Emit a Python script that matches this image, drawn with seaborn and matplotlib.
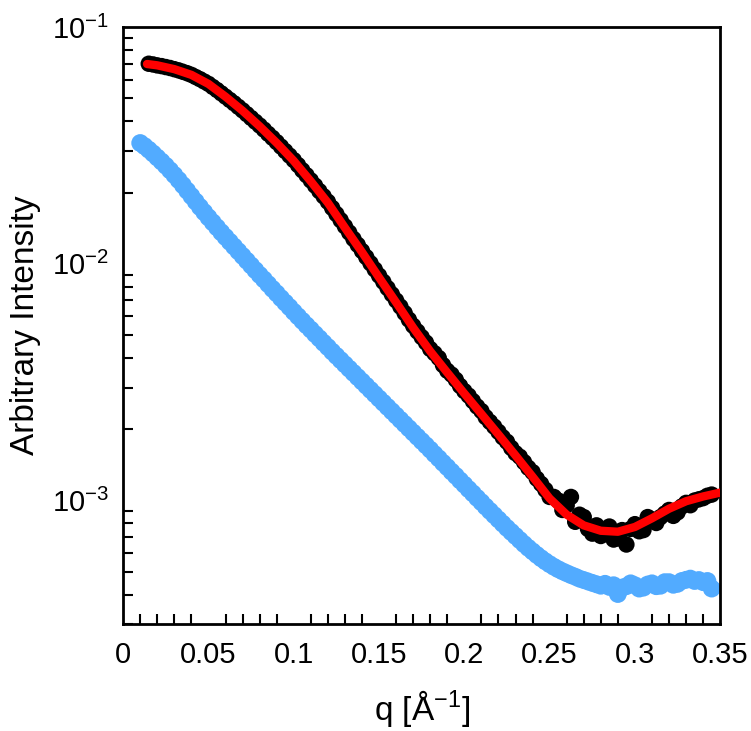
import numpy as np
import pandas as pd
import matplotlib
matplotlib.use("Agg")
import matplotlib.pyplot as plt
import seaborn as sns
from matplotlib.ticker import LogLocator, MultipleLocator, FuncFormatter

# --- data (intensities as log10 values read on the log axis) ---
q_blue = [0.0100, 0.0125, 0.0150, 0.0175, 0.0200, 0.0225, 0.0250, 0.0275, 0.0300, 0.0325,
          0.0350, 0.0375, 0.0400, 0.0425, 0.0450, 0.0475, 0.0500, 0.0525, 0.0550, 0.0575,
          0.0600, 0.0625, 0.0650, 0.0675, 0.0700, 0.0725, 0.0750, 0.0775, 0.0800, 0.0825,
          0.0850, 0.0875, 0.0900, 0.0925, 0.0950, 0.0975, 0.1000, 0.1025, 0.1050, 0.1075,
          0.1100, 0.1125, 0.1150, 0.1175, 0.1200, 0.1225, 0.1250, 0.1275, 0.1300, 0.1325,
          0.1350, 0.1375, 0.1400, 0.1425, 0.1450, 0.1475, 0.1500, 0.1525, 0.1550, 0.1575,
          0.1600, 0.1625, 0.1650, 0.1675, 0.1700, 0.1725, 0.1750, 0.1775, 0.1800, 0.1825,
          0.1850, 0.1875, 0.1900, 0.1925, 0.1950, 0.1975, 0.2000, 0.2025, 0.2050, 0.2075,
          0.2100, 0.2125, 0.2150, 0.2175, 0.2200, 0.2225, 0.2250, 0.2275, 0.2300, 0.2325,
          0.2350, 0.2375, 0.2400, 0.2425, 0.2450, 0.2475, 0.2500, 0.2525, 0.2550, 0.2575,
          0.2600, 0.2625, 0.2650, 0.2675, 0.2700, 0.2725, 0.2750, 0.2775, 0.2800, 0.2825,
          0.2850, 0.2875, 0.2900, 0.2925, 0.2950, 0.2975, 0.3000, 0.3025, 0.3050, 0.3075,
          0.3100, 0.3125, 0.3150, 0.3175, 0.3200, 0.3225, 0.3250, 0.3275, 0.3300, 0.3325,
          0.3350, 0.3375, 0.3400, 0.3425, 0.3450]
logI_blue = [-1.490, -1.503, -1.518, -1.534, -1.551, -1.568, -1.586, -1.605, -1.625, -1.646,
             -1.668, -1.691, -1.714, -1.737, -1.760, -1.782, -1.804, -1.825, -1.846, -1.867,
             -1.887, -1.907, -1.927, -1.947, -1.967, -1.987, -2.007, -2.027, -2.047, -2.066,
             -2.086, -2.106, -2.125, -2.145, -2.164, -2.183, -2.203, -2.222, -2.241, -2.260,
             -2.278, -2.297, -2.315, -2.334, -2.352, -2.371, -2.389, -2.407, -2.425, -2.443,
             -2.461, -2.479, -2.497, -2.515, -2.533, -2.551, -2.569, -2.587, -2.605, -2.623,
             -2.641, -2.659, -2.677, -2.695, -2.713, -2.731, -2.749, -2.767, -2.785, -2.804,
             -2.822, -2.841, -2.859, -2.878, -2.896, -2.915, -2.933, -2.952, -2.970, -2.989,
             -3.007, -3.026, -3.044, -3.062, -3.080, -3.098, -3.116, -3.133, -3.150, -3.167,
             -3.184, -3.200, -3.215, -3.230, -3.244, -3.257, -3.269, -3.280, -3.290, -3.299,
             -3.307, -3.315, -3.322, -3.330, -3.336, -3.342, -3.348, -3.354, -3.360, -3.352,
             -3.365, -3.358, -3.395, -3.368, -3.362, -3.350, -3.358, -3.372, -3.368, -3.355,
             -3.350, -3.362, -3.360, -3.345, -3.345, -3.356, -3.352, -3.340, -3.335, -3.330,
             -3.340, -3.336, -3.345, -3.340, -3.372]

q_black = [0.0150, 0.0175, 0.0200, 0.0225, 0.0250, 0.0275, 0.0300, 0.0325, 0.0350, 0.0375,
           0.0400, 0.0425, 0.0450, 0.0475, 0.0500, 0.0525, 0.0550, 0.0575, 0.0600, 0.0625,
           0.0650, 0.0675, 0.0700, 0.0725, 0.0750, 0.0775, 0.0800, 0.0825, 0.0850, 0.0875,
           0.0900, 0.0925, 0.0950, 0.0975, 0.1000, 0.1025, 0.1050, 0.1075, 0.1100, 0.1125,
           0.1150, 0.1175, 0.1200, 0.1225, 0.1250, 0.1275, 0.1300, 0.1325, 0.1350, 0.1375,
           0.1400, 0.1425, 0.1450, 0.1475, 0.1500, 0.1525, 0.1550, 0.1575, 0.1600, 0.1625,
           0.1650, 0.1675, 0.1700, 0.1725, 0.1750, 0.1775, 0.1800, 0.1825, 0.1850, 0.1875,
           0.1900, 0.1925, 0.1950, 0.1975, 0.2000, 0.2025, 0.2050, 0.2075, 0.2100, 0.2125,
           0.2150, 0.2175, 0.2200, 0.2225, 0.2250, 0.2275, 0.2300, 0.2325, 0.2350, 0.2375,
           0.2400, 0.2425, 0.2450, 0.2475, 0.2500, 0.2525, 0.2550, 0.2575, 0.2600, 0.2625,
           0.2650, 0.2675, 0.2700, 0.2725, 0.2750, 0.2775, 0.2800, 0.2825, 0.2850, 0.2875,
           0.2900, 0.2925, 0.2950, 0.2975, 0.3000, 0.3025, 0.3050, 0.3075, 0.3100, 0.3125,
           0.3150, 0.3175, 0.3200, 0.3225, 0.3250, 0.3275, 0.3300, 0.3325, 0.3350, 0.3375,
           0.3400, 0.3425, 0.3450]
logI_black = [-1.155, -1.158, -1.162, -1.165, -1.169, -1.173, -1.178, -1.183, -1.189, -1.195,
              -1.202, -1.211, -1.220, -1.230, -1.240, -1.253, -1.266, -1.280, -1.294, -1.308,
              -1.322, -1.337, -1.352, -1.368, -1.384, -1.400, -1.416, -1.433, -1.451, -1.468,
              -1.486, -1.505, -1.524, -1.543, -1.562, -1.583, -1.605, -1.626, -1.648, -1.670,
              -1.693, -1.715, -1.738, -1.764, -1.790, -1.816, -1.842, -1.868, -1.895, -1.920,
              -1.946, -1.972, -1.998, -2.024, -2.050, -2.076, -2.103, -2.129, -2.155, -2.181,
              -2.208, -2.236, -2.262, -2.286, -2.310, -2.333, -2.360, -2.378, -2.398, -2.428,
              -2.452, -2.468, -2.490, -2.516, -2.538, -2.557, -2.580, -2.603, -2.622, -2.648,
              -2.668, -2.688, -2.710, -2.733, -2.752, -2.778, -2.800, -2.815, -2.838, -2.862,
              -2.880, -2.908, -2.930, -2.955, -2.985, -2.985, -3.000, -3.040, -3.020, -2.985,
              -3.090, -3.060, -3.070, -3.120, -3.140, -3.105, -3.150, -3.130, -3.110, -3.165,
              -3.160, -3.125, -3.186, -3.120, -3.100, -3.130, -3.125, -3.070, -3.080, -3.095,
              -3.070, -3.055, -3.040, -3.065, -3.050, -3.025, -3.010, -3.020, -3.000, -2.995,
              -2.990, -2.980, -2.975]

q_fit = [0.014, 0.020, 0.030, 0.040, 0.050, 0.060, 0.070, 0.080, 0.090, 0.100,
         0.110, 0.120, 0.130, 0.140, 0.150, 0.160, 0.170, 0.180, 0.190, 0.200,
         0.210, 0.220, 0.230, 0.240, 0.250, 0.260, 0.270, 0.280, 0.290, 0.300,
         0.310, 0.320, 0.330, 0.340, 0.350]
I_fit = [0.0698, 0.0689, 0.0664, 0.0628, 0.0575, 0.0508, 0.0443, 0.0381, 0.0324, 0.0272,
         0.0223, 0.0181, 0.0142, 0.0112, 0.00875, 0.00687, 0.00537, 0.00427, 0.00347, 0.00283,
         0.00232, 0.00190, 0.00155, 0.00126, 0.00102, 0.000871, 0.000785, 0.000745, 0.000738, 0.000773,
         0.000841, 0.000923, 0.000993, 0.00104, 0.00108]

blue_df = pd.DataFrame({"q": q_blue, "I": np.power(10.0, logI_blue)})
black_df = pd.DataFrame({"q": q_black, "I": np.power(10.0, logI_black)})
fit_df = pd.DataFrame({"q": q_fit, "I": I_fit})

sns.set_theme(style="white")
plt.rcParams["font.family"] = ["Liberation Sans", "DejaVu Sans"]
plt.rcParams["mathtext.fontset"] = "custom"
plt.rcParams["mathtext.rm"] = "Liberation Sans"
plt.rcParams["mathtext.it"] = "Liberation Sans:italic"
plt.rcParams["text.color"] = "black"
plt.rcParams["axes.labelcolor"] = "black"

fig = plt.figure(figsize=(7.51, 7.31), dpi=100)
ax = fig.add_axes([0.164, 0.146, 0.795, 0.817])

sns.scatterplot(data=blue_df, x="q", y="I", ax=ax, color="#52ABFF", s=165,
                edgecolor="none", linewidth=0, zorder=2)
sns.scatterplot(data=black_df, x="q", y="I", ax=ax, color="black", s=140,
                edgecolor="none", linewidth=0, zorder=3)
sns.lineplot(data=fit_df, x="q", y="I", ax=ax, color="#FF0000", linewidth=6,
             sort=False, estimator=None, zorder=4)

ax.set_yscale("log")
ax.set_xlim(0, 0.35)
ax.set_ylim(3e-4, 1e-1)
ax.xaxis.set_major_locator(MultipleLocator(0.05))
ax.xaxis.set_minor_locator(MultipleLocator(0.01))
ax.xaxis.set_major_formatter(FuncFormatter(lambda v, p: f"{v:g}"))
ax.yaxis.set_major_locator(LogLocator(base=10))
ax.yaxis.set_minor_locator(LogLocator(base=10, subs=np.arange(2, 10)))

ax.tick_params(which="major", direction="in", length=15, width=1.5, labelsize=21,
               top=False, right=False, colors="black")
ax.tick_params(axis="x", which="major", pad=12)
ax.tick_params(axis="y", which="major", pad=10)
ax.tick_params(which="minor", direction="in", length=7.5, width=1.5,
               top=False, right=False, left=True, bottom=True, colors="black")
for sp in ax.spines.values():
    sp.set_linewidth(2)
    sp.set_color("black")

ax.set_xlabel("q [Å$^{-1}$]", fontsize=24, labelpad=14)
ax.set_ylabel("Arbitrary Intensity", fontsize=24, labelpad=8)

fig.savefig("out.png", dpi=100)
